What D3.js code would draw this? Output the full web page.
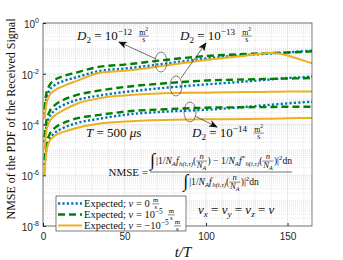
<!DOCTYPE html>
<html>
<head>
<meta charset="utf-8">
<script src="https://cdn.jsdelivr.net/npm/d3@7"></script>
<style>
body { margin: 0; background: #fff; }
svg { display: block; }
</style>
</head>
<body>
<div id="chart"></div>
<script>
// time steps t/T where the curves were read
var tSteps = [1, 2, 4, 7, 12, 20, 35, 50, 75, 100, 125, 140, 150, 158, 165];

// D2 = 1e-12
var d12_v0   = [2.5e-4, 1.0e-3, 2.2e-3, 3.5e-3, 5.0e-3, 7.1e-3, 1.3e-2, 1.6e-2, 2.5e-2, 4.0e-2, 5.5e-2, 6.3e-2, 6.9e-2, 7.6e-2, 8.1e-2];
var d12_vPos = [4.0e-4, 1.6e-3, 3.5e-3, 5.6e-3, 7.9e-3, 1.1e-2, 1.9e-2, 2.3e-2, 3.5e-2, 5.0e-2, 6.0e-2, 6.6e-2, 6.9e-2, 7.2e-2, 7.6e-2];
var d12_vNeg = [1.6e-4, 6.3e-4, 1.4e-3, 2.2e-3, 3.2e-3, 5.0e-3, 1.1e-2, 1.3e-2, 2.1e-2, 3.5e-2, 5.2e-2, 6.5e-2, 5.2e-2, 3.6e-2, 2.6e-2];
// D2 = 1e-13
var d13_v0   = [2.0e-5, 7.9e-5, 2.0e-4, 3.5e-4, 5.6e-4, 8.9e-4, 1.4e-3, 1.9e-3, 2.8e-3, 3.8e-3, 5.0e-3, 6.0e-3, 6.8e-3, 7.2e-3, 7.8e-3];
var d13_vPos = [3.2e-5, 1.3e-4, 3.2e-4, 5.6e-4, 8.9e-4, 1.4e-3, 2.2e-3, 3.0e-3, 4.2e-3, 5.4e-3, 6.0e-3, 6.3e-3, 6.5e-3, 6.6e-3, 6.8e-3];
var d13_vNeg = [1.0e-5, 5.0e-5, 1.3e-4, 2.2e-4, 3.5e-4, 6.3e-4, 1.1e-3, 1.4e-3, 1.7e-3, 1.8e-3, 1.9e-3, 1.95e-3, 2.0e-3, 2.0e-3, 2.0e-3];
// D2 = 1e-14
var d14_v0   = [2.5e-6, 1.0e-5, 2.5e-5, 4.5e-5, 7.1e-5, 1.1e-4, 1.7e-4, 2.4e-4, 3.2e-4, 3.8e-4, 5.0e-4, 6.0e-4, 6.8e-4, 7.4e-4, 7.9e-4];
var d14_vPos = [4.0e-6, 1.6e-5, 4.0e-5, 7.1e-5, 1.1e-4, 1.7e-4, 2.4e-4, 3.2e-4, 4.0e-4, 4.6e-4, 4.8e-4, 4.9e-4, 5.0e-4, 5.0e-4, 5.0e-4];
var d14_vNeg = [1.0e-6, 7.9e-6, 2.2e-5, 3.5e-5, 5.0e-5, 7.1e-5, 1.1e-4, 1.3e-4, 1.5e-4, 1.6e-4, 1.65e-4, 1.7e-4, 1.75e-4, 1.8e-4, 1.8e-4];

var xTicks = [0, 50, 100, 150];
var yTickExps = [0, -2, -4, -6, -8];

var width = 343, height = 260;
// plot area (note: "top" is reserved on window, so use pl/pt/pr/pb)
var pl = 43, pt = 23, pr = 312, pb = 226;
var serif = "'Liberation Serif', 'DejaVu Serif', serif";
var sans = "'Liberation Sans', Arial, sans-serif";

var blue = "#0072BD", green = "#008000", orange = "#EDB120";

var svg = d3.select("#chart").append("svg")
    .attr("width", width)
    .attr("height", height);

var x = d3.scaleLinear().domain([0, 165]).range([pl, pr]);
var y = d3.scaleLog().domain([1e-8, 1]).range([pb, pt]);

// grid
var grid = svg.append("g");
var minorY = [];
for (var e = -8; e < 0; e++) {
    for (var k = 2; k <= 9; k++) minorY.push(k * Math.pow(10, e));
    if (e % 2 !== 0) minorY.push(Math.pow(10, e));
}
grid.selectAll(".my").data(minorY).enter().append("line")
    .attr("x1", pl).attr("x2", pr)
    .attr("y1", function(d) { return y(d); }).attr("y2", function(d) { return y(d); })
    .attr("stroke", "#cfcfcf").attr("stroke-width", 0.5).attr("stroke-dasharray", "1,1");
var minorX = d3.range(10, 165, 10).filter(function(d) { return d % 50 !== 0; });
grid.selectAll(".mx").data(minorX).enter().append("line")
    .attr("y1", pt).attr("y2", pb)
    .attr("x1", function(d) { return x(d); }).attr("x2", function(d) { return x(d); })
    .attr("stroke", "#cfcfcf").attr("stroke-width", 0.5).attr("stroke-dasharray", "1,1");
grid.selectAll(".gy").data(yTickExps).enter().append("line")
    .attr("x1", pl).attr("x2", pr)
    .attr("y1", function(d) { return y(Math.pow(10, d)); }).attr("y2", function(d) { return y(Math.pow(10, d)); })
    .attr("stroke", "#dedede").attr("stroke-width", 0.6);
grid.selectAll(".gx").data(xTicks).enter().append("line")
    .attr("y1", pt).attr("y2", pb)
    .attr("x1", function(d) { return x(d); }).attr("x2", function(d) { return x(d); })
    .attr("stroke", "#dedede").attr("stroke-width", 0.6);

// axes (ticks pointing inward, MATLAB style)
var gX = svg.append("g").attr("transform", "translate(0," + pb + ")")
    .call(d3.axisBottom(x).tickValues(xTicks).tickSizeInner(-3).tickSizeOuter(0).tickPadding(7));
gX.select(".domain").remove();
gX.selectAll("text").attr("font-family", sans).attr("font-size", 10).attr("fill", "#262626");
gX.selectAll("line").attr("stroke", "#262626");

var gY = svg.append("g").attr("transform", "translate(" + pl + ",0)")
    .call(d3.axisLeft(y).tickValues(yTickExps.map(function(d) { return Math.pow(10, d); }))
        .tickSizeInner(-3).tickSizeOuter(0).tickFormat(""));
gY.select(".domain").remove();
gY.selectAll("line").attr("stroke", "#262626");
var yl = svg.append("g");
yTickExps.forEach(function(e) {
    var t = yl.append("text")
        .attr("x", pl - 4).attr("y", y(Math.pow(10, e)) + 5)
        .attr("text-anchor", "end")
        .attr("font-family", sans).attr("font-size", 10).attr("fill", "#262626");
    t.append("tspan").text("10");
    t.append("tspan").attr("dy", -5).attr("font-size", 7).text(e === 0 ? "0" : "-" + (-e));
});

// curves
var plot = svg.append("g");
svg.append("clipPath").attr("id", "clip").append("rect")
    .attr("x", pl).attr("y", pt).attr("width", pr - pl).attr("height", pb - pt);
plot.attr("clip-path", "url(#clip)");

var line = d3.line()
    .x(function(d) { return x(d[0]); })
    .y(function(d) { return y(d[1]); })
    .curve(d3.curveMonotoneX);

var series = [
    {v: d14_v0, c: blue, dash: "2.2,2.2", w: 2.4},
    {v: d14_vPos, c: green, dash: "7,4", w: 2.4},
    {v: d14_vNeg, c: orange, dash: null, w: 2},
    {v: d13_v0, c: blue, dash: "2.2,2.2", w: 2.4},
    {v: d13_vPos, c: green, dash: "7,4", w: 2.4},
    {v: d13_vNeg, c: orange, dash: null, w: 2},
    {v: d12_v0, c: blue, dash: "2.2,2.2", w: 2.4},
    {v: d12_vPos, c: green, dash: "7,4", w: 2.4},
    {v: d12_vNeg, c: orange, dash: null, w: 2}
];
series.forEach(function(s) {
    plot.append("path")
        .datum(tSteps.map(function(t, i) { return [t, s.v[i]]; }))
        .attr("d", line)
        .attr("fill", "none")
        .attr("stroke", s.c)
        .attr("stroke-width", s.w)
        .attr("stroke-dasharray", s.dash);
});

// box
svg.append("rect").attr("x", pl).attr("y", pt)
    .attr("width", pr - pl).attr("height", pb - pt)
    .attr("fill", "none").attr("stroke", "#262626").attr("stroke-width", 0.6);

// --- math text helper: lays out pieces left to right
function layout(g, x0, y0, parts, size) {
    var cx = x0;
    parts.forEach(function(p) {
        var fs = size * (p.s || 1);
        if (p.num) {
            var gn = g.append("g"), gd = g.append("g");
            var wn = layout(gn, 0, 0, p.num, fs);
            var wd = layout(gd, 0, 0, p.den, fs);
            var w = Math.max(wn, wd) + 1.5;
            var mid = y0 - size * 0.3;
            gn.attr("transform", "translate(" + (cx + (w - wn) / 2) + "," + (mid - fs * 0.2) + ")");
            gd.attr("transform", "translate(" + (cx + (w - wd) / 2) + "," + (mid + fs * 0.75) + ")");
            g.append("line").attr("x1", cx).attr("x2", cx + w)
                .attr("y1", mid).attr("y2", mid)
                .attr("stroke", "#111").attr("stroke-width", 0.5);
            cx += w + 0.5;
        } else {
            var t = g.append("text")
                .attr("x", cx).attr("y", y0 + (p.dy || 0) * size)
                .attr("font-size", fs)
                .attr("font-style", p.i ? "italic" : "normal")
                .style("white-space", "pre")
                .text(p.t);
            cx += t.node().getComputedTextLength() + (p.sp || 0);
        }
    });
    return cx - x0;
}
function mathAt(x0, y0, parts, size) {
    var g = svg.append("g").attr("font-family", serif).attr("fill", "#111");
    var w = layout(g, x0, y0, parts, size);
    return {g: g, w: w};
}
function sub(t, i) { return {t: t, s: 0.7, dy: 0.25, i: i}; }
function sup(t) { return {t: t, s: 0.7, dy: -0.42}; }
var msFrac = {num: [{t: "m"}, {t: "2", s: 0.7, dy: -0.4}], den: [{t: "s"}], s: 0.6};

// D2 labels
[["−12", 77, 40], ["−13", 180, 40], ["−14", 192, 137]].forEach(function(d) {
    mathAt(d[1], d[2], [{t: "D", i: 1}, sub("2"), {t: " = 10"}, sup(d[0]), {t: "  "}, msFrac], 13);
});

// arrows + ellipses
var defs = svg.append("defs");
defs.append("marker").attr("id", "ah")
    .attr("viewBox", "0 0 10 8").attr("refX", 9).attr("refY", 4)
    .attr("markerWidth", 9).attr("markerHeight", 7)
    .attr("markerUnits", "userSpaceOnUse")
    .attr("orient", "auto")
    .append("path").attr("d", "M0,0 L10,4 L0,8 L2.5,4 z").attr("fill", "#111");
[[156, 59, 119, 42], [181, 78, 206, 43], [195, 116, 217, 127]].forEach(function(a) {
    svg.append("line").attr("x1", a[0]).attr("y1", a[1]).attr("x2", a[2]).attr("y2", a[3])
        .attr("stroke", "#111").attr("stroke-width", 0.6).attr("marker-end", "url(#ah)");
});
[[161, 62], [176, 86], [190, 112]].forEach(function(c) {
    svg.append("ellipse").attr("cx", c[0]).attr("cy", c[1]).attr("rx", 6).attr("ry", 10)
        .attr("fill", "none").attr("stroke", "#333").attr("stroke-width", 0.6);
});

// T = 500 us
mathAt(86, 137, [{t: "T", i: 1}, {t: " = 500 "}, {t: "μ", i: 1}, {t: "s"}], 13);

// NMSE formula
var fs = 9.6;
function fA() { return [{t: "1/"}, {t: "N", i: 1}, sub("A", 1), {t: "f", i: 1, sp: 0.5}]; }
function nFrac() { return {num: [{t: "n", i: 1}], den: [{t: "N", i: 1}, sub("A", 1)], s: 0.9}; }
var numParts = [{t: "∫", s: 1.9, dy: 0.2, sp: 1}, {t: "|"}]
    .concat(fA(), [sub("h(t,τ)", 1), {t: "("}, nFrac(), {t: ") − "}], fA(),
        [sup("*"), sub("h(t,τ)", 1), {t: "("}, nFrac(), {t: ")|"}, sup("2"), {t: "dn"}]);
var denParts = [{t: "∫", s: 1.9, dy: 0.2, sp: 1}, {t: "|"}]
    .concat(fA(), [sub("h(t,τ)", 1), {t: "("}, nFrac(), {t: ")|"}, sup("2"), {t: "dn"}]);
var fx = 150, barY = 172;
var nm = mathAt(fx, barY - 8, numParts, fs);
var dn = mathAt(0, barY + 13, denParts, fs);
var bw = Math.max(nm.w, dn.w);
dn.g.attr("transform", "translate(" + (fx + (bw - dn.w) / 2) + ",0)");
svg.append("line").attr("x1", fx).attr("x2", fx + bw).attr("y1", barY).attr("y2", barY)
    .attr("stroke", "#111").attr("stroke-width", 0.6);
svg.append("text").attr("x", fx - 2).attr("y", barY + 3.5)
    .attr("text-anchor", "end").attr("font-family", serif).attr("font-size", 11)
    .attr("fill", "#111").text("NMSE =");

// vx = vy = vz = v
mathAt(198, 214, [{t: "v", i: 1}, sub("x", 1), {t: " = "}, {t: "v", i: 1}, sub("y", 1), {t: " = "},
    {t: "v", i: 1}, sub("z", 1), {t: " = "}, {t: "v", i: 1}], 13);

// legend
var lg = svg.append("g");
lg.append("rect").attr("x", 56).attr("y", 196).attr("width", 130).attr("height", 35)
    .attr("fill", "#fff").attr("stroke", "#262626").attr("stroke-width", 0.6);
var legendItems = [
    {s: series[0], parts: [{t: "Expected; "}, {t: "v", i: 1}, {t: " = 0 "}]},
    {s: series[1], parts: [{t: "Expected; "}, {t: "v", i: 1}, {t: " = 10"}, sup("−5"), {t: "  "}]},
    {s: series[2], parts: [{t: "Expected; "}, {t: "v", i: 1}, {t: " = −10"}, sup("−5"), {t: "  "}]}
];
legendItems.forEach(function(it, i) {
    var cy = 203.5 + i * 11;
    lg.append("line").attr("x1", 58).attr("x2", 82).attr("y1", cy).attr("y2", cy)
        .attr("stroke", it.s.c).attr("stroke-width", it.s.w).attr("stroke-dasharray", it.s.dash);
    mathAt(84, cy + 3.5, it.parts.concat([{num: [{t: "m"}], den: [{t: "s"}], s: 0.65}]), 10.5);
});

// axis labels
svg.append("text").attr("x", 183).attr("y", 257)
    .attr("text-anchor", "middle").attr("font-family", serif).attr("font-size", 15)
    .attr("font-style", "italic").attr("fill", "#111").text("t/T");
svg.append("text").attr("transform", "translate(11,119) rotate(-90)")
    .attr("text-anchor", "middle").attr("dominant-baseline", "central")
    .attr("font-family", serif).attr("font-size", 12).attr("fill", "#111")
    .text("NMSE of the PDF of the Received Signal");
</script>
</body>
</html>
